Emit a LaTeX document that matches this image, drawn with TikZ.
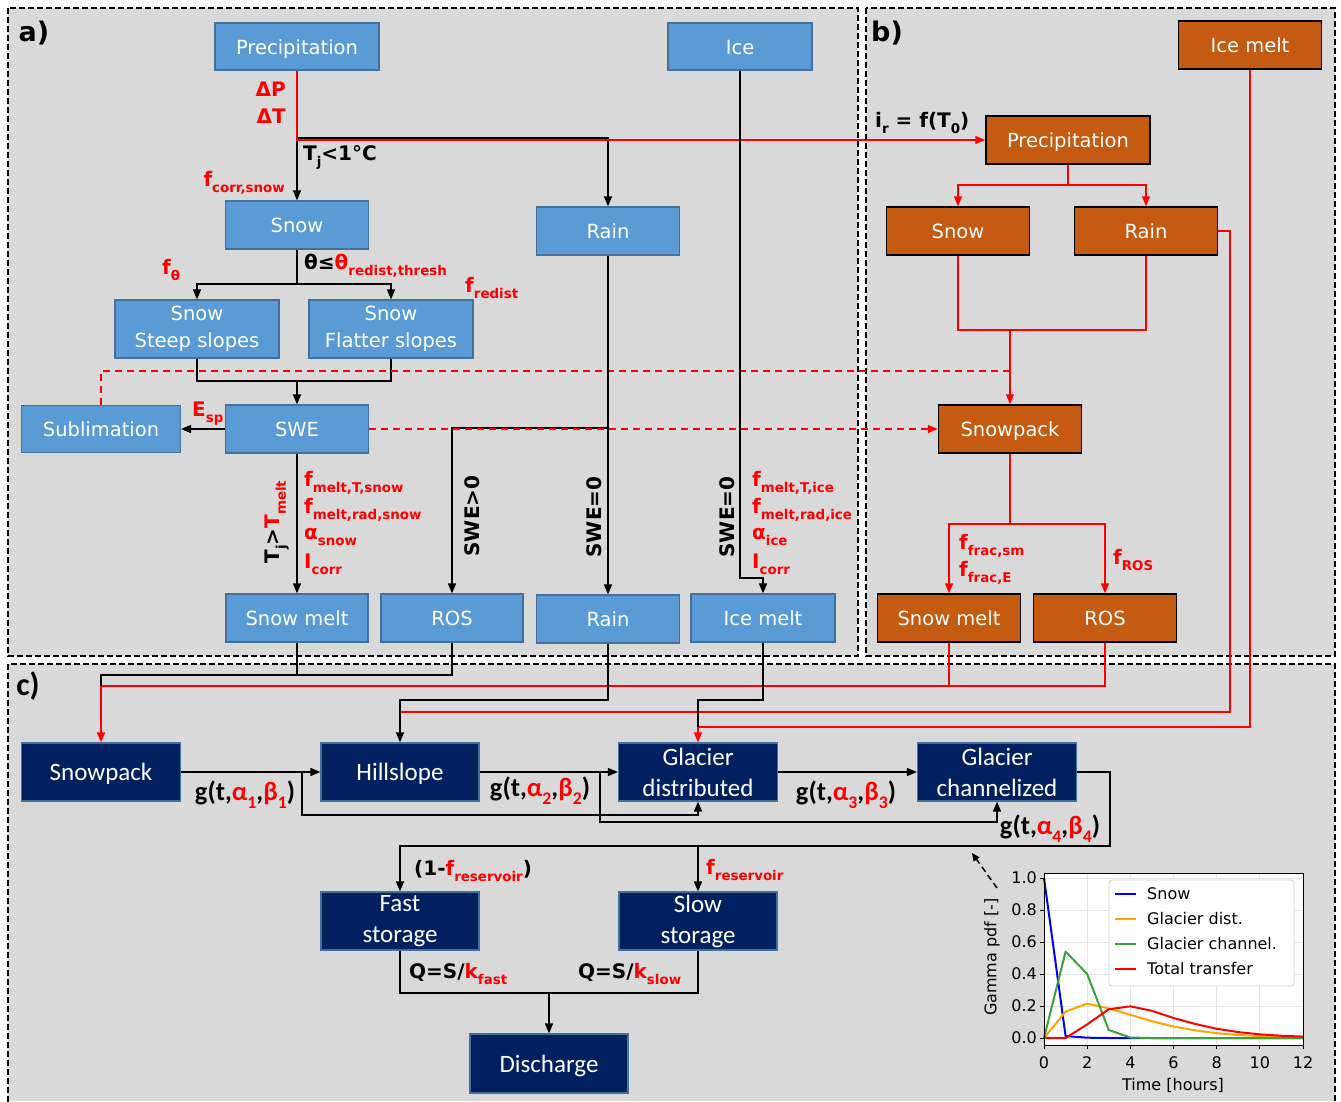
\documentclass[tikz,border=0pt]{standalone}
\usepackage{fontspec}
\setmainfont{DejaVu Sans}
\newfontfamily\carl{Carlito}
\usetikzlibrary{arrows.meta,calc}
\definecolor{aBlue}{HTML}{5B9BD5}
\definecolor{aEdge}{HTML}{41719C}
\definecolor{bOr}{HTML}{C55A11}
\definecolor{cNavy}{HTML}{002060}
\definecolor{panelgray}{HTML}{D9D9D9}
\definecolor{myRed}{HTML}{FF0000}
\definecolor{grd}{HTML}{E6E6E6}
\definecolor{mplBlue}{HTML}{0000FF}
\definecolor{mplOr}{HTML}{FFA500}
\definecolor{mplGr}{HTML}{3AA03A}
\newcommand\fsz[2]{\fontsize{#1}{#2}\selectfont}
\newcommand\lo[1]{\raisebox{-0.3em}{\scalebox{0.67}{#1}}}
\newcommand\rd[1]{\textcolor{myRed}{#1}}
\begin{document}
\begin{tikzpicture}[x=1pt,y=-1pt,
  >={Triangle[length=10pt,width=8pt]},
  baseA/.style={draw=aEdge, fill=aBlue, line width=1.2pt, text=white, font=\fsz{19.5}{27}, minimum width=143pt, minimum height=48pt, inner sep=0pt, align=center},
  boxA/.style={baseA, text height=15pt, text depth=0pt},
  boxB/.style={draw=black, fill=bOr, line width=1.5pt, text=white, font=\fsz{19.5}{27}, minimum width=143pt, minimum height=48pt, inner sep=0pt, align=center, text height=15pt, text depth=0pt},
  baseC/.style={draw=aEdge, fill=cNavy, line width=1.2pt, text=white, font=\carl\fsz{25}{31}, minimum width=158pt, minimum height=58pt, inner sep=0pt, align=center},
  boxC/.style={baseC, text height=17pt, text depth=0pt},
  frame/.style={draw=black, line width=1.5pt, dash pattern=on 6pt off 3pt},
  conn/.style={draw=black, line width=1.5pt},
  rconn/.style={draw=myRed, line width=1.5pt},
  rdash/.style={draw=myRed, line width=1.5pt, dash pattern=on 7pt off 5pt},
  lbl/.style={font=\bfseries\fsz{20}{23}, inner sep=0pt},
  rl/.style={lbl, text=myRed},
  glbl/.style={font=\carl\bfseries\fsz{26.5}{29}, inner sep=0pt},
  tick/.style={font=\fsz{16}{18}, inner sep=0pt},
]
\useasboundingbox (0,0) rectangle (1341,1101);
\fill[white] (0,0) rectangle (1341,1101);
% panels
\fill[panelgray] (8,8) rectangle (858,656);
\draw[frame] (8,8) rectangle (858,656);
\fill[panelgray] (866,8) rectangle (1335,656);
\draw[frame] (866,8) rectangle (1335,656);
\fill[panelgray] (8,664) rectangle (1335,1101);
\draw[frame] (8,1102) -- (8,664) -- (1335,664) -- (1335,1102);
\node[font=\bfseries\fsz{27}{30}, inner sep=0pt] (la) at (34,33) {a)};
\node[font=\bfseries\fsz{27}{30}, inner sep=0pt] (lb) at (887,33) {b)};
\node[font=\carl\bfseries\fsz{32}{34}, inner sep=0pt] (lc) at (28,686) {c)};

% ---------- panel a nodes
\node[boxA, minimum width=164pt, minimum height=47pt] (aPrec) at (297,46.5) {Precipitation};
\node[boxA, minimum width=144pt, minimum height=47pt] (aIce) at (740,46.5) {Ice};
\node[boxA] (aSnow) at (297,225) {Snow};
\node[boxA] (aRain) at (608,231) {Rain};
\node[baseA, minimum width=164pt, minimum height=58pt] (aSteep) at (197,329) {Snow\\Steep slopes};
\node[baseA, minimum width=164pt, minimum height=58pt] (aFlat) at (391,329) {Snow\\Flatter slopes};
\node[boxA, minimum width=159pt, minimum height=47pt] (aSubl) at (101,429) {Sublimation};
\node[boxA] (aSWE) at (297,429) {SWE};
\node[boxA, minimum width=142pt] (aSmelt) at (297,618) {Snow melt};
\node[boxA, minimum width=142pt] (aROS) at (452,618) {ROS};
\node[boxA] (aRain2) at (608,619) {Rain};
\node[boxA, minimum width=144pt] (aImelt) at (763,618) {Ice melt};

% ---------- panel b nodes
\node[boxB] (bImelt) at (1250,45) {Ice melt};
\node[boxB, minimum width=164pt] (bPrec) at (1068,140) {Precipitation};
\node[boxB] (bSnow) at (958,231) {Snow};
\node[boxB] (bRain) at (1146,231) {Rain};
\node[boxB] (bPack) at (1010,429) {Snowpack};
\node[boxB] (bSmelt) at (949,618) {Snow melt};
\node[boxB] (bROS) at (1105,618) {ROS};

% ---------- panel c nodes
\node[boxC, minimum width=159pt] (cPack) at (101,772) {Snowpack};
\node[boxC] (cHill) at (400,772) {Hillslope};
\node[baseC, minimum width=159pt] (cGdist) at (698,772) {Glacier\\distributed};
\node[baseC, minimum width=159pt] (cGchan) at (997,772) {Glacier\\channelized};
\node[baseC] (cFast) at (400,921) {Fast\\storage};
\node[baseC] (cSlow) at (698,921) {Slow\\storage};
\node[boxC, minimum height=59pt] (cDis) at (549,1063.5) {Discharge};

% ---------- coordinates
\coordinate (j1) at (297,138);
\coordinate (s1) at (297,284);
\coordinate (m1) at (297,381);
\coordinate (d1) at (1010,371);
\coordinate (r1) at (608,428);
\coordinate (i1) at (740,578);
\coordinate (p1) at (1068,185);
\coordinate (p2) at (1010,330);
\coordinate (p3) at (1010,524);
\coordinate (k1) at (101,675);
\coordinate (k2) at (101,686);
\coordinate (h1) at (400,700);
\coordinate (h2) at (400,712);
\coordinate (rb) at (1230,712);
\coordinate (g1) at (698,700);
\coordinate (g2) at (698,727);
\coordinate (l1) at (302,772);
\coordinate (l2) at (302,815);
\coordinate (l3) at (600,772);
\coordinate (l4) at (600,822);
\coordinate (q1) at (1110,772);
\coordinate (q2) at (1110,846);
\coordinate (q3) at (698,846);
\coordinate (z1) at (549,993);

% ---------- panel a connectors
\draw[conn,->] (j1) -| (aRain.north);
\draw[conn,->] (j1) -- (aSnow.north);
\draw[rconn,->] (aPrec.south) |- (bPrec.west);
\draw[conn] (aSnow.south) -- (s1);
\draw[conn,->] (s1) -| (aSteep.north);
\draw[conn,->] (s1) -| (aFlat.north);
\draw[conn] (aSteep.south) |- (m1) -| (aFlat.south);
\draw[conn,->] (m1) -- (aSWE.north);
\draw[rdash] (aSubl.north) |- (d1);
\draw[conn,->] (aSWE.west) -- (aSubl.east);
\draw[conn] (aRain.south) -- (r1);
\draw[conn,->] (r1) -| (aROS.north);
\draw[conn,->] (r1) -- (aRain2.north);
\draw[rdash,->] (aSWE.east) -- (bPack.west);
\draw[conn,->] (aSWE.south) -- (aSmelt.north);
\draw[conn,->] (aIce.south) -- (i1) -| (aImelt.north);

% ---------- panel b connectors
\draw[rconn] (bPrec.south) -- (p1);
\draw[rconn,->] (p1) -| (bSnow.north);
\draw[rconn,->] (p1) -| (bRain.north);
\draw[rconn] (bSnow.south) |- (p2) -| (bRain.south);
\draw[rconn,->] (p2) -- (bPack.north);
\draw[rconn] (bPack.south) -- (p3);
\draw[rconn,->] (p3) -| (bSmelt.north);
\draw[rconn,->] (p3) -| (bROS.north);

% ---------- links into panel c
\draw[rconn] (bRain.east) -| (rb) -- (h2);
\draw[rconn] (bImelt.south) |- (g2);
\draw[rconn] (bROS.south) |- (k2);
\draw[rconn] (bSmelt.south) -- (bSmelt.south |- k2);
\draw[rconn,->] (k2) -- (cPack.north);
\draw[rconn,->] (g2) -- (cGdist.north);
\draw[conn] (aROS.south) |- (k1) -- (k2);
\draw[conn] (aSmelt.south) -- (aSmelt.south |- k1);
\draw[conn,->] (aRain2.south) |- (h1) -- (cHill.north);
\draw[conn] (aImelt.south) |- (g1) -- (g2);

% ---------- panel c connectors
\draw[conn,->] (cPack.east) -- (cHill.west);
\draw[conn,->] (l1) -- (l2) -| (cGdist.south);
\draw[conn,->] (cHill.east) -- (cGdist.west);
\draw[conn,->] (l3) -- (l4) -| (cGchan.south);
\draw[conn,->] (cGdist.east) -- (cGchan.west);
\draw[conn,->] (cGchan.east) -- (q1) -- (q2) -| (cFast.north);
\draw[conn,->] (q3) -- (cSlow.north);
\draw[conn] (cFast.south) |- (z1) -| (cSlow.south);
\draw[conn,->] (z1) -- (cDis.north);

% ---------- labels panel a
\node[rl, anchor=east] (tdP) at (286,89) {ΔP};
\node[rl, anchor=east] (tdT) at (286,116) {ΔT};
\node[lbl, anchor=west] (tT1) at (303,157) {T\lo{j}<1°C};
\node[rl, anchor=east] (tfc) at (285,183) {f\lo{corr,snow}};
\node[rl] (tft) at (171,270) {f\lo{θ}};
\node[lbl, anchor=west] (tth) at (304,266) {θ≤\rd{θ\lo{redist,thresh}}};
\node[rl, anchor=west] (tfr) at (465,288) {f\lo{redist}};
\node[rl, anchor=west] (tEs) at (192,414) {E\lo{sp}};
\node[lbl, rotate=90] (tTm) at (277,522) {T\lo{j}>\rd{T\lo{melt}}};
\node[rl, anchor=west] (tm1) at (304,483) {f\lo{melt,T,snow}};
\node[rl, anchor=west] (tm2) at (304,510) {f\lo{melt,rad,snow}};
\node[rl, anchor=west] (tm3) at (304,537) {α\lo{snow}};
\node[rl, anchor=west] (tm4) at (304,564) {I\lo{corr}};
\node[lbl, rotate=90] (tS1) at (472,516) {SWE>0};
\node[lbl, rotate=90] (tS2) at (594,517) {SWE=0};
\node[lbl, rotate=90] (tS3) at (727,517) {SWE=0};
\node[rl, anchor=west] (ti1) at (752,483) {f\lo{melt,T,ice}};
\node[rl, anchor=west] (ti2) at (752,510) {f\lo{melt,rad,ice}};
\node[rl, anchor=west] (ti3) at (752,537) {α\lo{ice}};
\node[rl, anchor=west] (ti4) at (752,564) {I\lo{corr}};

% ---------- labels panel b
\node[lbl, anchor=west] (tir) at (875,123) {i\lo{r} = f(T\lo{0})};
\node[rl, anchor=west] (tf1) at (959,546) {f\lo{frac,sm}};
\node[rl, anchor=west] (tf2) at (959,573) {f\lo{frac,E}};
\node[rl, anchor=west] (tf3) at (1113,560) {f\lo{ROS}};

% ---------- labels panel c
\node[glbl] (tg1) at (245,795) {g(t,\rd{α\lo{1}},\rd{β\lo{1}})};
\node[glbl] (tg2) at (540,791) {g(t,\rd{α\lo{2}},\rd{β\lo{2}})};
\node[glbl] (tg3) at (846,795) {g(t,\rd{α\lo{3}},\rd{β\lo{3}})};
\node[glbl] (tg4) at (1050,829) {g(t,\rd{α\lo{4}},\rd{β\lo{4}})};
\node[lbl, anchor=west] (tr1) at (414,871) {(1-\rd{f\lo{reservoir}})};
\node[rl, anchor=west] (tr2) at (706,870) {f\lo{reservoir}};
\node[lbl, anchor=west] (tq1) at (409,974) {Q=S/\rd{k\lo{fast}}};
\node[lbl, anchor=west] (tq2) at (578,974) {Q=S/\rd{k\lo{slow}}};

% ---------- dashed pointer
\coordinate (w1) at (997,888);
\coordinate (w2) at (972,853);
\draw[line width=1.5pt, dash pattern=on 6pt off 4pt, -{Triangle[length=8pt,width=7pt]}] (w1) -- (w2);

% ---------- chart
\fill[white] (1044,873) rectangle (1303,1045);
\begin{scope}[shift={(1044,1038)}, x=21.583pt, y=160pt]
  \foreach \t in {0,2,4,6,8,10,12} \draw[grd, line width=1pt] (\t,-0.044) -- (\t,1.031);
  \foreach \v in {0,0.2,0.4,0.6,0.8,1.0} \draw[grd, line width=1pt] (0,\v) -- (12,\v);
  \draw[mplBlue, line width=2pt, line join=round] plot coordinates {(0,1) (1,0.012) (2,0.002) (3,0) (4,0) (12,0)};
  \draw[mplOr, line width=2pt, line join=round] plot coordinates {(0,0) (1,0.165) (2,0.215) (3,0.185) (4,0.145) (5,0.105) (6,0.072) (7,0.048) (8,0.03) (9,0.019) (10,0.012) (11,0.007) (12,0.004)};
  \draw[mplGr, line width=2pt, line join=round] plot coordinates {(0,0) (1,0.54) (2,0.40) (3,0.05) (4,0.003) (5,0) (12,0)};
  \draw[myRed, line width=2pt, line join=round] plot coordinates {(0,0) (1,0) (2,0.085) (3,0.18) (4,0.198) (5,0.17) (6,0.125) (7,0.088) (8,0.058) (9,0.037) (10,0.023) (11,0.014) (12,0.009)};
  \draw[line width=1pt] (0,-0.044) rectangle (12,1.031);
  \foreach \t in {0,2,4,6,8,10,12} {
    \draw[line width=1pt] (\t,-0.044) -- ++(0,-4pt);
    \node[tick] (xt\t) at (\t,-0.156) {\t};
  }
  \foreach \v/\s in {0/0.0,0.2/0.2,0.4/0.4,0.6/0.6,0.8/0.8,1.0/1.0} {
    \draw[line width=1pt] (0,\v) -- ++(-4pt,0);
    \node[tick, anchor=east] at ($(0,\v)+(-7pt,0)$) {\s};
  }
\end{scope}
\node[tick] (xlab) at (1173,1085) {Time [hours]};
\node[tick, rotate=90] (ylab) at (992,957) {Gamma pdf [-]};
\draw[draw=gray!35, fill=white, rounded corners=3pt, line width=0.8pt] (1109,880) rectangle (1294,986);
\draw[mplBlue, line width=2pt] (1115,894) -- (1136,894);
\draw[mplOr, line width=2pt] (1115,919) -- (1136,919);
\draw[mplGr, line width=2pt] (1115,944) -- (1136,944);
\draw[myRed, line width=2pt] (1115,969) -- (1136,969);
\node[tick, anchor=west] (lg1) at (1147,894) {Snow};
\node[tick, anchor=west] (lg2) at (1147,919) {Glacier dist.};
\node[tick, anchor=west] (lg3) at (1147,944) {Glacier channel.};
\node[tick, anchor=west] (lg4) at (1147,969) {Total transfer};
\end{tikzpicture}
\end{document}
